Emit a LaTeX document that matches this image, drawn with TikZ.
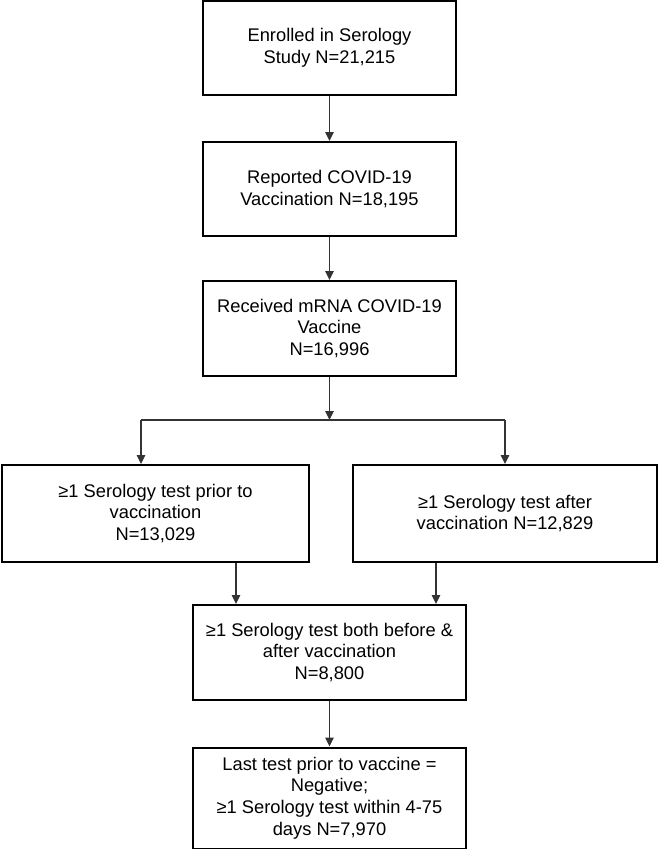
\documentclass[tikz,border=0pt]{standalone}
\usepackage{fontspec}
\setmainfont{Liberation Sans}
\usetikzlibrary{arrows.meta}
\begin{document}
\begin{tikzpicture}[x=1pt,y=-1pt,
  box/.style={draw=black, line width=2pt, rectangle, align=center, inner sep=0pt,
    font=\fontsize{18.3}{21.8}\selectfont},
  arr/.style={draw=black!80, line width=1.1pt, -{Triangle[length=9pt,width=8.5pt]}},
  ln/.style={draw=black!80, line width=1.1pt}]
\useasboundingbox (0,0) rectangle (661,849);
\node[box, minimum width=253pt, minimum height=94pt] (b1) at (329.5,48) {Enrolled in Serology\\Study N=21,215};
\node[box, minimum width=253pt, minimum height=94pt] (b2) at (329.5,189) {Reported COVID-19\\Vaccination N=18,195};
\node[box, minimum width=253pt, minimum height=95pt] (b3) at (329.5,328.5) {Received mRNA COVID-19\\Vaccine\\N=16,996};
\node[box, minimum width=307pt, minimum height=97pt] (b4) at (155.5,513.5) {≥1 Serology test prior to\\vaccination\\N=13,029};
\node[box, minimum width=304pt, minimum height=97pt] (b4r) at (505,513.5) {≥1 Serology test after\\vaccination N=12,829};
\node[box, minimum width=273pt, minimum height=95pt] (b5) at (329.5,652.5) {≥1 Serology test both before \&\\after vaccination\\N=8,800};
\node[box, minimum width=273pt, minimum height=101pt] (b6) at (329.5,798) {Last test prior to vaccine =\\Negative;\\≥1 Serology test within 4-75\\days N=7,970};
\draw[arr] (b1.south) -- (b2.north);
\draw[arr] (b2.south) -- (b3.north);
\coordinate (br) at (329.5,420);
\coordinate (bl) at (141,420);
\coordinate (brr) at (505,420);
\draw[arr] (b3.south) -- (br);
\draw[ln] (bl) -- (brr);
\draw[arr] (bl) -- (bl |- b4.north);
\draw[arr] (brr) -- (brr |- b4r.north);
\coordinate (la) at (236,0);
\coordinate (ra) at (436,0);
\draw[arr] (la |- b4.south) -- (la |- b5.north);
\draw[arr] (ra |- b4r.south) -- (ra |- b5.north);
\draw[arr] (b5.south) -- (b6.north);
\end{tikzpicture}
\end{document}
